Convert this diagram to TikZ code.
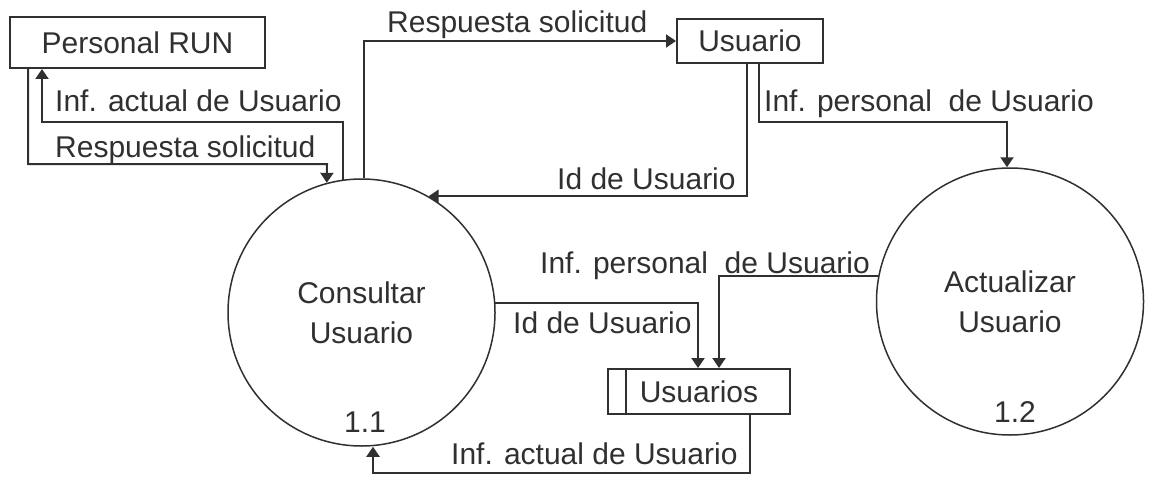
\documentclass[tikz,border=0pt]{standalone}
\usepackage{fontspec}
\setmainfont{Liberation Sans}
\usetikzlibrary{arrows.meta}
\definecolor{ink}{HTML}{303030}

\begin{document}
\begin{tikzpicture}[x=1pt, y=-1pt, color=ink,
      font=\fontsize{30}{40}\selectfont,
      box/.style={draw=ink, line width=2, inner sep=0pt},
      proc/.style={circle, draw=ink, line width=1.5, align=center, inner sep=0pt, minimum size=267},
      flow/.style={line width=2, -{Triangle[length=10pt, width=13pt]}},
      lbl/.style={anchor=base west, inner sep=0pt}]
      \useasboundingbox (0,0) rectangle (1155,492);
      \node[box, minimum width=255, minimum height=51] (run) at (137.5,42.5) {Personal RUN};
      \node[box, minimum width=146, minimum height=44] (usr) at (750,41) {Usuario};
      \node[proc] (cons) at (361.5,312.5) {Consultar\\Usuario};
      \node[proc] (act) at (1010,301.5) {Actualizar\\Usuario};
      \node[box, minimum width=182, minimum height=45] (store) at (699,391.5) {Usuarios};
      \draw[line width=2] ([xshift=19pt]store.north west) -- ([xshift=19pt]store.south west);
      \node[anchor=base, inner sep=0pt] (num11) at (365,432) {1.1};
      \node[anchor=base, inner sep=0pt] (num12) at (1015,422) {1.2};
      \draw[flow] (cons.98) |- (42,122) -- (run.south -| 42,0);
      \draw[flow] (run.south -| 28,0) |- (327,164) -- (cons.105);
      \draw[flow] (cons.89) |- (usr.west);
      \draw[flow] (usr.south -| 747,0) |- (cons.60);
      \draw[flow] (usr.south -| 759,0) |- (1007,122) -- (act.north -| 1007,0);
      \draw[flow] (cons.4) -| (store.north -| 698,0);
      \draw[flow] (act.169) -| (store.north -| 719,0);
      \draw[flow] (store.south -| 750,0) |- (373,473) -- (cons.south -| 373,0);
      \node[lbl] (l1) at (55,112) {Inf. actual de Usuario};
      \node[lbl] (l2) at (55,157) {Respuesta solicitud};
      \node[lbl] (l3) at (387,33) {Respuesta solicitud};
      \node[lbl] (l4) at (557,189) {Id de Usuario};
      \node[lbl] (l5) at (764,112) {Inf. personal~~de Usuario};
      \node[lbl] (l6) at (513,333) {Id de Usuario};
      \node[lbl] (l7) at (540,273) {Inf. personal~~de Usuario};
      \node[lbl] (l8) at (451,464) {Inf. actual de Usuario};
\end{tikzpicture}
\end{document}
